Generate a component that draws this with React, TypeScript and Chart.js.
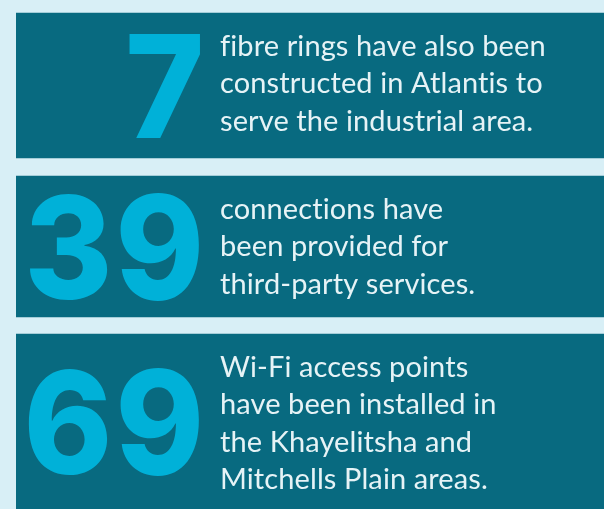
import React, { useEffect, useRef } from "react";
import { Chart, registerables } from "chart.js";

Chart.register(...registerables);

// Panel vertical extents (in page pixel units, y axis runs top -> bottom)
const panelRanges: [number, number][] = [
  [13, 158],
  [176, 317],
  [334, 509],
];
const panelNumbers = ["7", "39", "69"];
const panelTexts: string[][] = [
  ["fibre rings have also been", "constructed in Atlantis to", "serve the industrial area."],
  ["connections have", "been provided for", "third-party services."],
  ["Wi-Fi access points", "have been installed in", "the Khayelitsha and", "Mitchells Plain areas."],
];

const BG = "#d8eff6";
const PANEL = "#086a80";
const CYAN = "#00b1d8";
const TEXT = "#e6f3f6";

const textPlugin = {
  id: "panelText",
  afterDatasetsDraw(chart: any) {
    const ctx = chart.ctx;
    ctx.save();
    chart.data.datasets.forEach((ds: any, i: number) => {
      const meta = chart.getDatasetMeta(i);
      const bar = meta.data[0];
      if (!bar) return;
      const top = Math.min(bar.y, bar.base);
      const bottom = Math.max(bar.y, bar.base);
      const center = (top + bottom) / 2;
      // big number
      ctx.save();
      ctx.fillStyle = CYAN;
      ctx.font = "800 143px Inter, Lato, sans-serif";
      (ctx as any).letterSpacing = "3px";
      ctx.textAlign = "right";
      ctx.textBaseline = "alphabetic";
      ctx.translate(207, center + 52);
      ctx.scale(0.94, 1);
      ctx.fillText(panelNumbers[i], 0, 0);
      ctx.restore();
      // description
      ctx.fillStyle = TEXT;
      ctx.font = "400 29px Lato, 'Noto Sans', sans-serif";
      (ctx as any).letterSpacing = "0.1px";
      ctx.textAlign = "left";
      ctx.textBaseline = "alphabetic";
      panelTexts[i].forEach((line, j) => {
        ctx.fillText(line, 220, top + 43 + j * 37.3);
      });
    });
    ctx.restore();
  },
};

export default function App() {
  const ref = useRef<HTMLCanvasElement | null>(null);
  useEffect(() => {
    document.body.style.margin = "0";
    document.body.style.background = BG;
    if (!ref.current) return;
    const chart = new Chart(ref.current, {
      type: "bar",
      data: {
        labels: [""],
        datasets: panelRanges.map((r, i) => ({
          label: panelNumbers[i],
          data: [r as any],
          backgroundColor: PANEL,
          borderWidth: 0,
          grouped: false,
          barPercentage: 1,
          categoryPercentage: 1,
        })),
      },
      options: {
        animation: false,
        responsive: false,
        maintainAspectRatio: false,
        layout: { padding: { left: 16, right: 0, top: 0, bottom: 0 } },
        plugins: { legend: { display: false }, tooltip: { enabled: false } },
        scales: {
          x: { display: false },
          y: { display: false, min: 0, max: 509, reverse: true },
        },
      },
      plugins: [textPlugin],
    });
    return () => chart.destroy();
  }, []);
  return (
    <div style={{ position: "fixed", left: 0, top: 0, width: 604, height: 509, background: BG }}>
      <canvas ref={ref} width={604} height={509} style={{ width: 604, height: 509 }} />
    </div>
  );
}
